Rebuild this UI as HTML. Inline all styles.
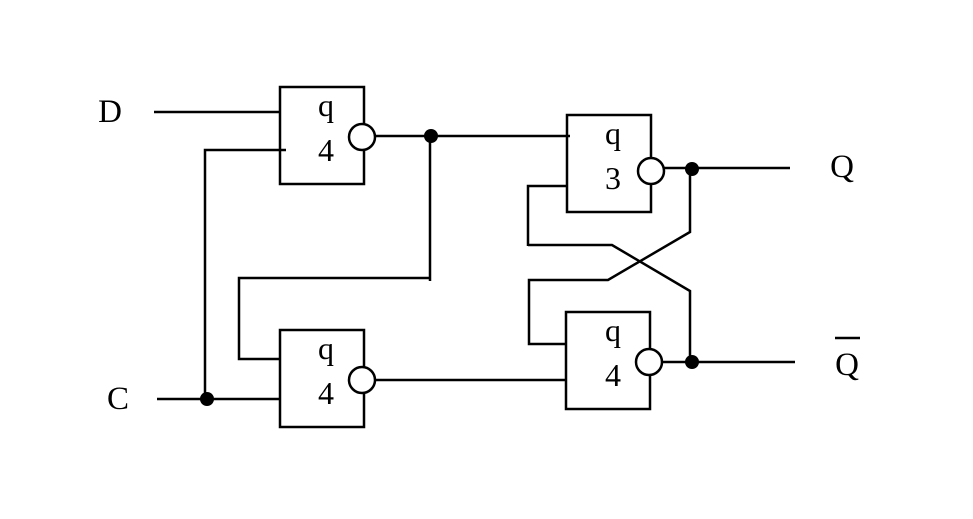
<!DOCTYPE html>
<html><head><style>body{margin:0;background:#fff}</style></head><body>
<svg width="973" height="514" xmlns="http://www.w3.org/2000/svg" font-family="Liberation Serif, serif">
<g fill="none" stroke="#000" stroke-width="2.5">
<rect x="280" y="87" width="84" height="97"/>
<rect x="280" y="330" width="84" height="97"/>
<rect x="567" y="115" width="84" height="97"/>
<rect x="566" y="312" width="84" height="97"/>
<path d="M154 112H280M286 150H205V399M157 399H280M375 136H570M430 136V281M430 278H239V359H280M375 380H567"/>
<path d="M567 186H528V246M528 245H612L690 291V362M664 168H790M690 169V232L608 280H529V344H566M662 362H795"/>
<path d="M835 338H860"/>
</g>
<g fill="#fff" stroke="#000" stroke-width="2.5">
<circle cx="362" cy="137" r="13"/><circle cx="362" cy="380" r="13"/>
<circle cx="651" cy="171" r="13"/><circle cx="649" cy="362" r="13"/>
</g>
<g fill="#000"><circle cx="431" cy="136" r="7"/><circle cx="207" cy="399" r="7"/><circle cx="692" cy="169" r="7"/><circle cx="692" cy="362" r="7"/></g>
<g font-size="33" text-anchor="middle" fill="#000">
<text x="110" y="122">D</text><text x="118" y="409">C</text>
<text x="842" y="177">Q</text><text x="847" y="375">Q</text>
</g>
<g font-size="32" text-anchor="middle" fill="#000">
<text x="326" y="116">q</text><text x="326" y="161">4</text>
<text x="326" y="359">q</text><text x="326" y="404">4</text>
<text x="613" y="144">q</text><text x="613" y="189">3</text>
<text x="613" y="341">q</text><text x="613" y="386">4</text>
</g>
</svg>
</body></html>
